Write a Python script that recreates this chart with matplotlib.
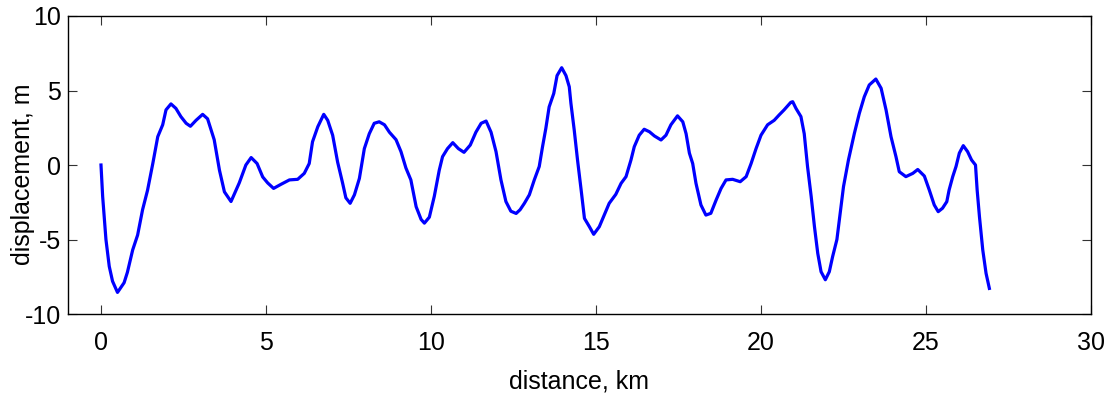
import matplotlib
matplotlib.use("Agg")
import matplotlib.pyplot as plt
import numpy as np

# distance along profile, km
distance = [
    0.0, 0.05, 0.15, 0.25, 0.35, 0.5, 0.7, 0.8, 0.96, 1.11, 1.26, 1.41, 1.57,
    1.72, 1.87, 1.97, 2.12, 2.27, 2.42, 2.58, 2.71, 2.88, 3.08, 3.23, 3.43,
    3.59, 3.74, 3.94, 4.19, 4.39, 4.55, 4.73, 4.9, 5.05, 5.23, 5.45, 5.71,
    5.96, 6.16, 6.31, 6.41, 6.57, 6.75, 6.87, 7.02, 7.17, 7.32, 7.42, 7.55,
    7.68, 7.83, 7.98, 8.13, 8.28, 8.43, 8.59, 8.74, 8.94, 9.09, 9.24, 9.39,
    9.55, 9.7, 9.8, 9.95, 10.1, 10.25, 10.35, 10.5, 10.66, 10.83, 11.0,
    11.19, 11.36, 11.52, 11.67, 11.82, 11.97, 12.12, 12.27, 12.42, 12.58,
    12.7, 12.83, 12.98, 13.13, 13.28, 13.38, 13.48, 13.58, 13.72, 13.82,
    13.96, 14.09, 14.19, 14.24, 14.34, 14.44, 14.55, 14.65, 14.8, 14.93,
    15.1, 15.25, 15.4, 15.6, 15.76, 15.91, 16.06, 16.16, 16.31, 16.46,
    16.62, 16.77, 16.97, 17.12, 17.27, 17.47, 17.63, 17.73, 17.83, 17.93,
    18.03, 18.18, 18.33, 18.48, 18.64, 18.79, 18.94, 19.14, 19.37, 19.55,
    19.7, 19.85, 20.0, 20.2, 20.4, 20.55, 20.7, 20.9, 20.96, 21.06, 21.21,
    21.31, 21.41, 21.52, 21.62, 21.72, 21.82, 21.95, 22.07, 22.17, 22.3,
    22.4, 22.5, 22.65, 22.83, 22.98, 23.13, 23.28, 23.48, 23.64, 23.79,
    23.94, 24.09, 24.19, 24.39, 24.6, 24.75, 24.95, 25.1, 25.25, 25.37,
    25.5, 25.63, 25.7, 25.81, 25.91, 26.01, 26.13, 26.26, 26.38, 26.5,
    26.55, 26.62, 26.72, 26.82, 26.92,
]

# displacement, m
displacement = [
    0.0, -2.1, -5.0, -6.8, -7.8, -8.55, -7.9, -7.2, -5.7, -4.7, -3.0, -1.7,
    0.1, 1.9, 2.7, 3.7, 4.1, 3.8, 3.25, 2.8, 2.6, 3.0, 3.4, 3.1, 1.7, -0.35,
    -1.8, -2.45, -1.2, 0.0, 0.5, 0.1, -0.8, -1.2, -1.57, -1.3, -1.0, -0.96,
    -0.56, 0.1, 1.56, 2.57, 3.4, 3.0, 2.0, 0.2, -1.2, -2.2, -2.57, -2.0,
    -0.9, 1.1, 2.1, 2.8, 2.9, 2.7, 2.2, 1.7, 0.9, -0.2, -1.0, -2.8, -3.65,
    -3.9, -3.5, -2.1, -0.35, 0.56, 1.1, 1.5, 1.1, 0.85, 1.34, 2.2, 2.8,
    2.95, 2.2, 0.9, -1.0, -2.45, -3.1, -3.25, -3.0, -2.57, -2.0, -1.0, -0.1,
    1.23, 2.46, 3.9, 4.8, 6.0, 6.53, 6.0, 5.25, 4.14, 2.35, 0.34, -1.68,
    -3.58, -4.14, -4.65, -4.14, -3.36, -2.57, -1.97, -1.23, -0.78, 0.34,
    1.23, 2.0, 2.4, 2.23, 1.95, 1.68, 2.0, 2.7, 3.3, 2.9, 2.1, 0.8, 0.1,
    -1.23, -2.68, -3.36, -3.24, -2.35, -1.57, -1.0, -0.96, -1.12, -0.78,
    0.1, 1.1, 2.0, 2.7, 3.0, 3.36, 3.7, 4.2, 4.25, 3.8, 3.25, 2.1, -0.1,
    -2.1, -4.14, -5.93, -7.16, -7.7, -7.16, -6.15, -5.0, -3.24, -1.45, 0.34,
    2.13, 3.47, 4.58, 5.37, 5.77, 5.15, 3.69, 1.9, 0.56, -0.45, -0.78,
    -0.56, -0.3, -0.74, -1.68, -2.68, -3.13, -2.9, -2.46, -1.68, -0.78,
    -0.1, 0.8, 1.3, 0.9, 0.34, 0.0, -1.68, -3.47, -5.7, -7.27, -8.28,
]

xticks = [0, 5, 10, 15, 20, 25, 30]
yticks = [-10, -5, 0, 5, 10]
ytick_labels = ["-10", "-5", "0", "5", "10"]

plt.rcParams['font.family'] = ['Liberation Sans', 'DejaVu Sans']

fig = plt.figure(figsize=(11.11, 3.96), dpi=100)
ax = fig.add_axes([0.0612, 0.207, 0.9208, 0.7526])

ax.plot(distance, displacement, color=(0, 0, 1), linewidth=2.3)

ax.set_xlim(-1, 30)
ax.set_ylim(-10, 10)
ax.set_xticks(xticks)
ax.set_yticks(yticks)
ax.set_yticklabels(ytick_labels)
ax.tick_params(direction='in', length=6.5, width=0.8, color='#333333',
               top=True, right=True, labelsize=18, pad=5)
ax.tick_params(axis='x', pad=12)
for sp in ax.spines.values():
    sp.set_linewidth(1.0)

ax.set_xlabel("distance, km", fontsize=18)
ax.xaxis.set_label_coords(0.5, -0.185)
ax.set_ylabel("displacement, m", fontsize=18)
ax.yaxis.set_label_coords(-0.032, 0.47)

fig.savefig("out.png", dpi=100)
